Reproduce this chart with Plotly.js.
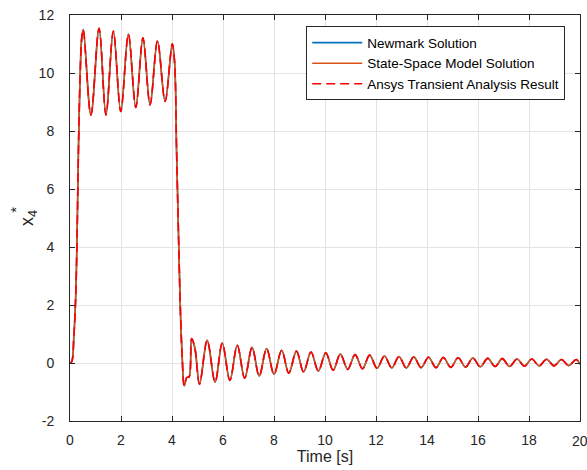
<!DOCTYPE html>
<html>
<head>
<meta charset="utf-8">
<script src="https://cdn.plot.ly/plotly-3.0.1.min.js"></script>
<style>html,body{margin:0;padding:0;background:#fff;}#chart{width:587px;height:470px;}</style>
</head>
<body>
<div id="chart"></div>
<script>
// Time samples (peaks, troughs and shape points)
var time = [
  0, 0.07, 0.15, 0.22, 0.28, 0.33, 0.40, 0.46, 0.52,
  0.82, 1.14, 1.41, 1.70, 1.99, 2.29, 2.58, 2.86, 3.14, 3.43, 3.73, 4.01,
  4.10, 4.18, 4.25, 4.32, 4.40, 4.48, 4.58, 4.67, 4.77, 4.90,
  5.08, 5.38, 5.69, 5.97, 6.27, 6.56, 6.85, 7.14, 7.42, 7.71, 8.00, 8.30,
  8.58, 8.88, 9.16, 9.45, 9.74, 10.03, 10.32, 10.60, 10.89, 11.18, 11.47,
  11.75, 12.04, 12.33, 12.62, 12.90, 13.19, 13.48, 13.77, 14.06, 14.35,
  14.64, 14.93, 15.22, 15.51, 15.80, 16.09, 16.38, 16.67, 16.95, 17.24,
  17.53, 17.82, 18.11, 18.40, 18.69, 18.98, 19.27, 19.56, 19.85, 20.00
];
var newmark = [
  0, 0.05, 0.9, 2.2, 4.5, 7.3, 10.0, 11.2, 11.50,
  8.55, 11.54, 8.55, 11.45, 8.67, 11.34, 8.81, 11.21, 8.90, 11.11, 9.02, 11.01,
  10.4, 7.3, 4.6, 2.1, 0.2, -0.78, -0.50, -0.48, 0.84, 0.50,
  -0.73, 0.78, -0.66, 0.69, -0.60, 0.61, -0.52, 0.54, -0.45, 0.50, -0.39, 0.44,
  -0.35, 0.41, -0.31, 0.38, -0.28, 0.35, -0.25, 0.31, -0.22, 0.29, -0.20,
  0.27, -0.18, 0.24, -0.17, 0.22, -0.17, 0.21, -0.16, 0.20, -0.16,
  0.19, -0.15, 0.18, -0.14, 0.17, -0.13, 0.16, -0.12, 0.15, -0.12,
  0.14, -0.11, 0.14, -0.10, 0.13, -0.10, 0.12, -0.09, 0.12, -0.04
];
var stateSpace = newmark.slice();
var ansys = newmark.slice();

var seriesNames = ['Newmark Solution', 'State-Space Model Solution', 'Ansys Transient Analysis Result'];
var xTicks = [0, 2, 4, 6, 8, 10, 12, 14, 16, 18, 20];
var yTicks = [-2, 0, 2, 4, 6, 8, 10, 12];

var fontFam = '"Liberation Sans", Arial, Helvetica, sans-serif';
var traces = [
  {x: time, y: newmark, name: seriesNames[0], type: 'scatter', mode: 'lines',
   line: {color: '#0072BD', width: 1.6, shape: 'spline', smoothing: 1}},
  {x: time, y: stateSpace, name: seriesNames[1], type: 'scatter', mode: 'lines',
   line: {color: '#D95319', width: 1.6, shape: 'spline', smoothing: 1}},
  {x: time, y: ansys, name: seriesNames[2], type: 'scatter', mode: 'lines',
   line: {color: '#FF0000', width: 1.6, dash: '9px,5px', shape: 'spline', smoothing: 1}}
];

// last x tick label is partly cut by the page edge in the original
var lastTick = xTicks[xTicks.length - 1];
var xTickText = xTicks.map(function (v) { return v === lastTick ? '' : String(v); });

var layout = {
  width: 587, height: 470,
  margin: {l: 70, r: 7, t: 15, b: 49},
  paper_bgcolor: '#ffffff', plot_bgcolor: '#ffffff',
  font: {family: fontFam, size: 14, color: '#262626'},
  showlegend: true,
  legend: {
    x: 0.971, y: 0.972, xanchor: 'right', yanchor: 'top',
    bgcolor: '#ffffff', bordercolor: '#262626', borderwidth: 1,
    font: {family: fontFam, size: 13.5, color: '#000000'},
    itemwidth: 50, tracegroupgap: 0
  },
  xaxis: {
    range: [0, 20], tickvals: xTicks, ticktext: xTickText,
    ticks: 'inside', ticklen: 5, tickcolor: '#262626',
    showline: true, linecolor: '#262626', linewidth: 1, mirror: 'ticks',
    showgrid: true, gridcolor: '#e3e3e3', gridwidth: 1, zeroline: false,
    tickfont: {family: fontFam, size: 14, color: '#262626'},
    ticklabelstandoff: 6,
    title: {text: 'Time [s]', font: {family: fontFam, size: 16, color: '#262626'}, standoff: 4}
  },
  yaxis: {
    range: [-2, 12], tickvals: yTicks, ticktext: yTicks.map(String),
    ticks: 'inside', ticklen: 5, tickcolor: '#262626',
    showline: true, linecolor: '#262626', linewidth: 1, mirror: 'ticks',
    showgrid: true, gridcolor: '#e3e3e3', gridwidth: 1, zeroline: false,
    tickfont: {family: fontFam, size: 14, color: '#262626'},
    ticklabelstandoff: 12,
    title: {text: 'x<sub>4</sub>', font: {family: fontFam, size: 18, color: '#262626'}, standoff: 0}
  },
  annotations: [
    {text: '*', xref: 'paper', yref: 'paper', x: -0.106, y: 0.52, showarrow: false,
     xanchor: 'center', yanchor: 'middle',
     textangle: -90, font: {family: fontFam, size: 15, color: '#262626'}},
    {text: String(lastTick), xref: 'x', yref: 'paper', x: lastTick, y: -0.025,
     xanchor: 'center', yanchor: 'top', showarrow: false,
     font: {family: fontFam, size: 14, color: '#262626'}}
  ]
};

Plotly.newPlot('chart', traces, layout, {displayModeBar: false, staticPlot: true});
</script>
</body>
</html>
